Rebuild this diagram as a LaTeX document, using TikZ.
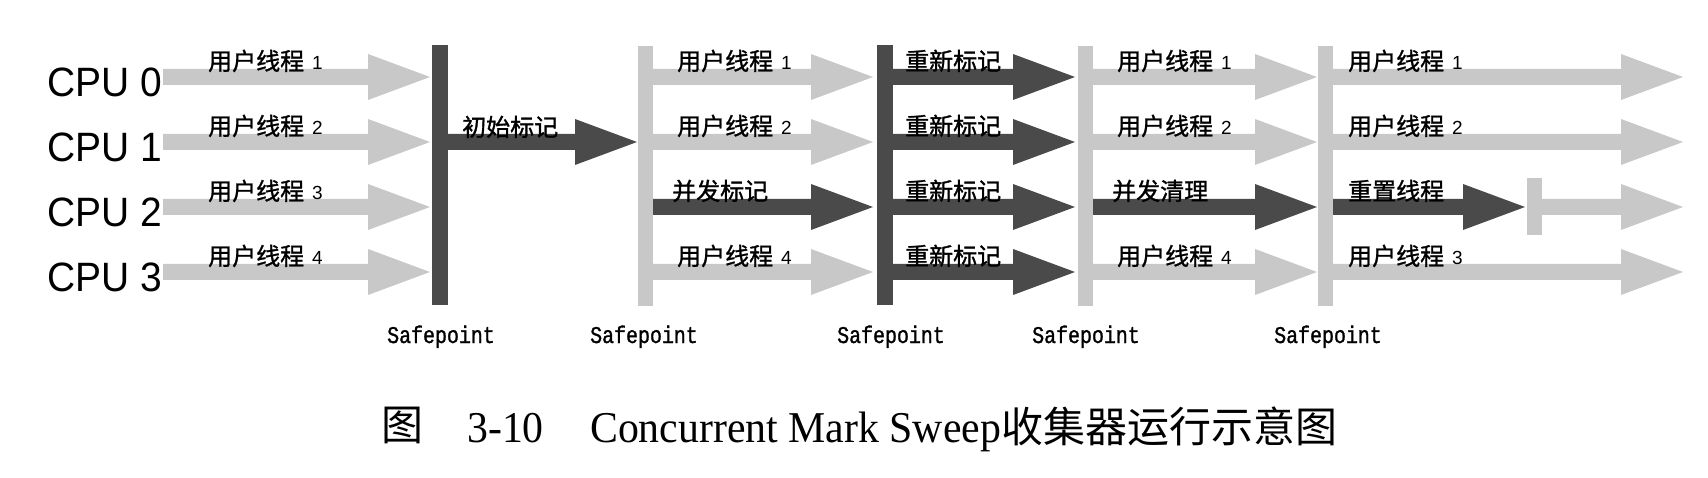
\documentclass[tikz,border=0pt]{standalone}
\usepackage{fontspec}
\setmainfont{Liberation Serif}
\newfontfamily\cjk{Noto Sans CJK SC}
\newfontfamily\cjklab[FakeBold=1.2]{Noto Sans CJK SC}
\newfontfamily\cpufont[FakeStretch=0.95]{Liberation Sans}
\newfontfamily\spfont[FakeStretch=0.83,FakeBold=1.2]{Liberation Mono}
\newfontfamily\capfont[FakeStretch=0.95]{Liberation Serif}
\newfontfamily\digitfont{Liberation Sans}
\definecolor{lightarr}{RGB}{200,200,200}
\definecolor{darkarr}{RGB}{74,74,74}
% fat arrow: #1 start x, #2 tip x, #3 row y, #4 colour
\newcommand\cmsarrow[4]{%
  \fill[#4] (#1,#3-8) -- (#2-62,#3-8) -- (#2-62,#3-23) -- (#2,#3)
    -- (#2-62,#3+23) -- (#2-62,#3+8) -- (#1,#3+8) -- cycle;}
\newcommand\tnum[1]{\hspace{8pt}{\digitfont\fontsize{19}{19}\selectfont #1}}
\begin{document}
\begin{tikzpicture}[x=1pt,y=-1pt,
  cpulab/.style={anchor=base west, inner sep=0pt, font=\cpufont\fontsize{41}{41}\selectfont},
  ulab/.style={anchor=base west, inner sep=0pt, font=\cjklab\fontsize{24}{24}\selectfont},
  splab/.style={anchor=base, inner sep=0pt, font=\spfont\fontsize{24}{24}\selectfont},
  capl/.style={anchor=base west, inner sep=0pt, font=\capfont\fontsize{44}{44}\selectfont},
  capc/.style={anchor=base west, inner sep=0pt, font=\cjk\fontsize{42}{42}\selectfont},
  sbar/.style={inner sep=0pt, minimum width=16pt, minimum height=260pt}]
\useasboundingbox (0,0) rectangle (1708,478);

% CPU labels
\node[cpulab] (cpu0) at (47,97) {CPU 0};
\node[cpulab] (cpu1) at (47,162) {CPU 1};
\node[cpulab] (cpu2) at (47,227) {CPU 2};
\node[cpulab] (cpu3) at (47,292) {CPU 3};

% segment A: user threads before first safepoint
\cmsarrow{163}{430}{77}{lightarr}
\cmsarrow{163}{430}{142}{lightarr}
\cmsarrow{163}{430}{207}{lightarr}
\cmsarrow{163}{430}{272}{lightarr}
% segment B: initial mark
\cmsarrow{448}{637}{142}{darkarr}
% segment C: concurrent mark
\cmsarrow{653}{873}{77}{lightarr}
\cmsarrow{653}{873}{142}{lightarr}
\cmsarrow{653}{873}{207}{darkarr}
\cmsarrow{653}{873}{272}{lightarr}
% segment D: remark
\cmsarrow{893}{1075}{77}{darkarr}
\cmsarrow{893}{1075}{142}{darkarr}
\cmsarrow{893}{1075}{207}{darkarr}
\cmsarrow{893}{1075}{272}{darkarr}
% segment E: concurrent sweep
\cmsarrow{1093}{1317}{77}{lightarr}
\cmsarrow{1093}{1317}{142}{lightarr}
\cmsarrow{1093}{1317}{207}{darkarr}
\cmsarrow{1093}{1317}{272}{lightarr}
% segment F: reset
\cmsarrow{1333}{1683}{77}{lightarr}
\cmsarrow{1333}{1683}{142}{lightarr}
\cmsarrow{1333}{1525}{207}{darkarr}
\cmsarrow{1542}{1683}{207}{lightarr}
\cmsarrow{1333}{1683}{272}{lightarr}
\node[inner sep=0pt, minimum width=15pt, minimum height=57pt, fill=lightarr] (endbar) at (1534.5,206.5) {};

% safepoint bars
\node[sbar, fill=darkarr] (sp1) at (440,175) {};
\node[sbar, fill=lightarr, minimum width=15pt] (sp2) at (645.5,176) {};
\node[sbar, fill=darkarr] (sp3) at (885,175) {};
\node[sbar, fill=lightarr, minimum width=15pt] (sp4) at (1085.5,176) {};
\node[sbar, fill=lightarr, minimum width=15pt] (sp5) at (1325.5,176) {};

% safepoint labels
\node[splab] (spl1) at (441,343) {Safepoint};
\node[splab] (spl2) at (644,343) {Safepoint};
\node[splab] (spl3) at (891,343) {Safepoint};
\node[splab] (spl4) at (1086,343) {Safepoint};
\node[splab] (spl5) at (1328,343) {Safepoint};

% thread labels
\node[ulab] (a0) at (208,70) {用户线程\tnum{1}};
\node[ulab] (a1) at (208,135) {用户线程\tnum{2}};
\node[ulab] (a2) at (208,200) {用户线程\tnum{3}};
\node[ulab] (a3) at (208,265) {用户线程\tnum{4}};
\node[ulab] (b1) at (462,136) {初始标记};
\node[ulab] (c0) at (677,70) {用户线程\tnum{1}};
\node[ulab] (c1) at (677,135) {用户线程\tnum{2}};
\node[ulab] (c2) at (672,200) {并发标记};
\node[ulab] (c3) at (677,265) {用户线程\tnum{4}};
\node[ulab] (d0) at (905,70) {重新标记};
\node[ulab] (d1) at (905,135) {重新标记};
\node[ulab] (d2) at (905,200) {重新标记};
\node[ulab] (d3) at (905,265) {重新标记};
\node[ulab] (e0) at (1117,70) {用户线程\tnum{1}};
\node[ulab] (e1) at (1117,135) {用户线程\tnum{2}};
\node[ulab] (e2) at (1112,200) {并发清理};
\node[ulab] (e3) at (1117,265) {用户线程\tnum{4}};
\node[ulab] (f0) at (1348,70) {用户线程\tnum{1}};
\node[ulab] (f1) at (1348,135) {用户线程\tnum{2}};
\node[ulab] (f2) at (1348,200) {重置线程};
\node[ulab] (f3) at (1348,265) {用户线程\tnum{3}};

% caption
\node[capc] (capfig) at (381,440) {图};
\node[capl] (capnum) at (467,442) {3-10};
\node[capl] (captext) at (590,442) {Concurrent Mark Sweep{\cjk\fontsize{42}{42}\selectfont 收集器运行示意图}};
\end{tikzpicture}
\end{document}
